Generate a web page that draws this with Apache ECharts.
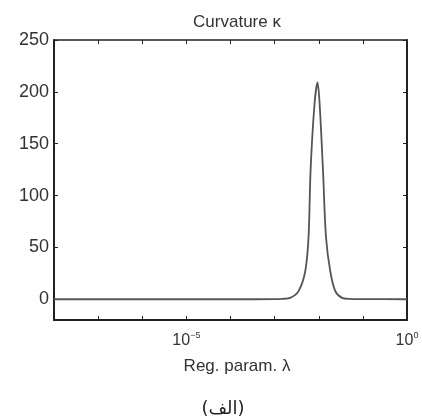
<!DOCTYPE html>
<html>
<head>
<meta charset="utf-8">
<script src="https://cdn.jsdelivr.net/npm/echarts@6/dist/echarts.min.js"></script>
<style>
html,body{margin:0;padding:0;background:#fff;}
#c{width:422px;height:417px;}
</style>
</head>
<body>
<div id="c"></div>
<script>
// Data
var lambdaValues = [1e-8, 1e-6, 1e-4, 1e-3, 1.5e-3, 2.26e-3, 3.48e-3, 4.94e-3, 5.87e-3, 6.53e-3, 8.04e-3, 9.40e-3, 1.045e-2, 1.247e-2, 1.459e-2, 1.824e-2, 2.371e-2, 3.365e-2, 5e-2, 1e-1, 1];
var kappaValues  = [0,    0,    0,    0.1,  0.4,    1.3,     7.8,     27,      60,      124.5,   189,     209,     189,      124.5,    60,       27,       7.8,      1.3,      0.3,  0.1, 0];
var yTicks = [0, 50, 100, 150, 200, 250];
var xLabelExps = [-5, 0];

var data = lambdaValues.map(function (l, i) { return [l, kappaValues[i]]; });

function isLabelExp(v) {
  var e = Math.log10(v);
  for (var i = 0; i < xLabelExps.length; i++) {
    if (Math.abs(e - xLabelExps[i]) < 1e-6) return xLabelExps[i];
  }
  return null;
}

var axisCol = '#222';
var txtCol = '#333';
var font = 'Liberation Sans, Arial, sans-serif';
var chart = echarts.init(document.getElementById('c'));
chart.setOption({
  animation: false,
  backgroundColor: '#fff',
  title: [{
    text: 'Curvature κ',
    left: 232, top: 9, textAlign: 'center',
    textStyle: {fontFamily: font, fontSize: 17, fontWeight: 'normal', color: txtCol}
  }, {
    text: 'Reg. param. λ',
    left: 232, top: 353, textAlign: 'center',
    textStyle: {fontFamily: font, fontSize: 17, fontWeight: 'normal', color: txtCol}
  }, {
    text: '(الف)',
    left: 218, top: 395, textAlign: 'center',
    textStyle: {fontFamily: 'DejaVu Sans, sans-serif', fontSize: 18, fontWeight: 'normal', color: '#222'}
  }],
  grid: {left: 54, right: 15, top: 40, bottom: 97, containLabel: false},
  xAxis: [{
    type: 'log', logBase: 10, min: 1e-8, max: 1, splitNumber: 8, interval: 1,
    position: 'bottom',
    axisLine: {show: true, onZero: false, lineStyle: {color: axisCol, width: 2}},
    axisTick: {show: true, inside: true, length: 4, lineStyle: {color: axisCol}},
    minorTick: {show: false},
    splitLine: {show: false},
    axisLabel: {
      show: true, margin: 11,
      formatter: function (v) {
        var e = isLabelExp(v);
        if (e === null) return '';
        return '{b|10}{s|' + (e < 0 ? '−' + (-e) : e) + '}';
      },
      rich: {
        b: {fontFamily: font, fontSize: 16, color: txtCol},
        s: {fontFamily: font, fontSize: 9, color: txtCol, verticalAlign: 'top', padding: [0, 0, 10, 0]}
      }
    }
  }, {
    type: 'log', logBase: 10, min: 1e-8, max: 1, splitNumber: 8, interval: 1,
    position: 'top',
    axisLine: {show: true, onZero: false, lineStyle: {color: axisCol, width: 1.5}},
    axisTick: {show: true, inside: true, length: 4, lineStyle: {color: axisCol}},
    axisLabel: {show: false},
    splitLine: {show: false}
  }],
  yAxis: [{
    type: 'value', min: -20, max: 250,
    position: 'left',
    axisLine: {show: true, onZero: false, lineStyle: {color: axisCol, width: 2}},
    axisTick: {show: true, inside: true, length: 4, customValues: yTicks, lineStyle: {color: axisCol}},
    splitLine: {show: false},
    axisLabel: {
      customValues: yTicks, margin: 5,
      fontFamily: font, fontSize: 18, color: txtCol
    }
  }, {
    type: 'value', min: -20, max: 250,
    position: 'right',
    axisLine: {show: true, onZero: false, lineStyle: {color: axisCol, width: 2}},
    axisTick: {show: true, inside: true, length: 4, customValues: yTicks, lineStyle: {color: axisCol}},
    splitLine: {show: false},
    axisLabel: {show: false}
  }],
  series: [{
    type: 'line',
    xAxisIndex: 0, yAxisIndex: 0,
    data: data,
    smooth: 0.3,
    showSymbol: false,
    lineStyle: {color: '#555', width: 1.8}
  }]
});
</script>
</body>
</html>
